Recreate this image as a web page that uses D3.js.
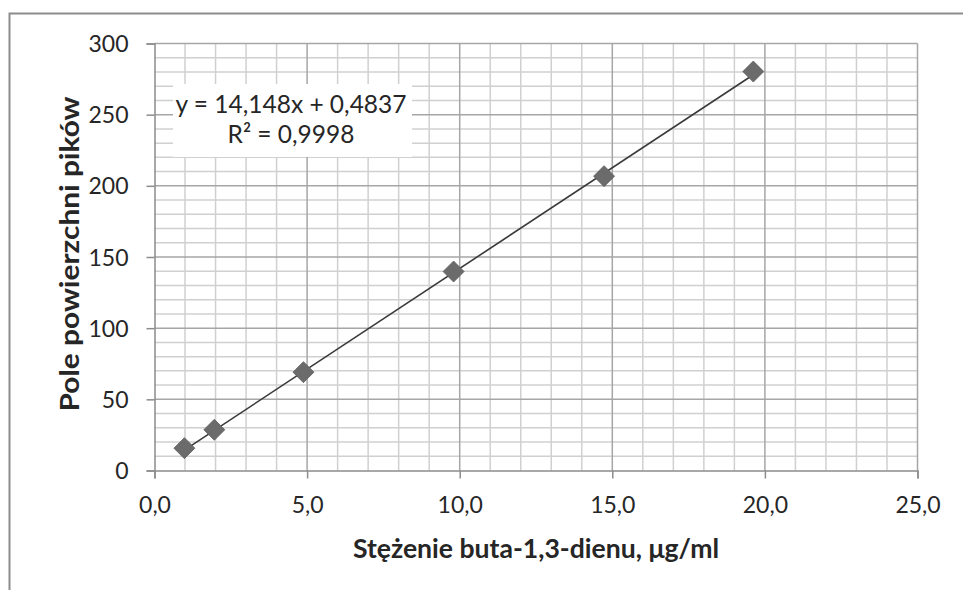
<!DOCTYPE html>
<html><head><meta charset="utf-8">
<script src="https://cdn.jsdelivr.net/npm/d3@7"></script>
<style>
html,body{margin:0;padding:0;background:#fff;}
svg{display:block;}
text{font-family:Lato,"Open Sans",sans-serif;fill:#262626;}
</style></head><body>
<script>
const concentrations = [0.98, 1.96, 4.88, 9.8, 14.73, 19.62];
const peakAreas = [15.7, 28.6, 69.1, 139.8, 206.8, 280.3];
const xTicks = [0, 5, 10, 15, 20, 25];
const yTicks = [0, 50, 100, 150, 200, 250, 300];
const slope = 14.148, intercept = 0.4837;
const equationLines = ["y = 14,148x + 0,4837", "R\u00b2 = 0,9998"];
const xTitle = "St\u0119\u017cenie buta-1,3-dienu, \u03bcg/ml";
const yTitle = "Pole powierzchni pik\u00f3w";

const W = 963, H = 590;
const svg = d3.select("body").append("svg").attr("width", W).attr("height", H);

// outer chart border
svg.append("rect").attr("x", 9.5).attr("y", 13.5).attr("width", 1000).attr("height", 700)
  .attr("fill", "#fff").attr("stroke", "#8c8c8c").attr("stroke-width", 2);

const x = d3.scaleLinear().domain([0, 25]).range([154.5, 917.5]);
const y = d3.scaleLinear().domain([0, 300]).range([470.5, 43.5]);

const g = svg.append("g");
// minor grid
g.selectAll(".vmin").data(d3.range(1, 25).filter(v => v % 5)).join("line")
  .attr("x1", d => x(d)).attr("x2", d => x(d)).attr("y1", y(0)).attr("y2", y(300))
  .attr("stroke", "#d0d0d0").attr("stroke-width", 1.5);
g.selectAll(".hmin").data(d3.range(10, 300, 10).filter(v => v % 50)).join("line")
  .attr("y1", d => y(d)).attr("y2", d => y(d)).attr("x1", x(0)).attr("x2", x(25))
  .attr("stroke", "#d0d0d0").attr("stroke-width", 1.5);
// major grid
g.selectAll(".vmaj").data(xTicks.slice(1)).join("line")
  .attr("x1", d => x(d)).attr("x2", d => x(d)).attr("y1", y(0)).attr("y2", y(300))
  .attr("stroke", "#a6a6a6").attr("stroke-width", 1.5);
g.selectAll(".hmaj").data(yTicks.slice(1)).join("line")
  .attr("y1", d => y(d)).attr("y2", d => y(d)).attr("x1", x(0)).attr("x2", x(25))
  .attr("stroke", "#a6a6a6").attr("stroke-width", 1.5);

// axes
const xAxis = svg.append("g").attr("transform", `translate(0,${y(0)})`)
  .call(d3.axisBottom(x).tickValues(xTicks).tickSize(8).tickPadding(18)
    .tickFormat(d => d3.format(".1f")(d).replace(".", ",")));
const yAxis = svg.append("g").attr("transform", `translate(${x(0)},0)`)
  .call(d3.axisLeft(y).tickValues(yTicks).tickSize(8).tickPadding(18));
[xAxis, yAxis].forEach(a => {
  a.select(".domain").attr("stroke", "#8c8c8c").attr("stroke-width", 1.5);
  a.selectAll(".tick line").attr("stroke", "#8c8c8c").attr("stroke-width", 1.5);
  a.selectAll(".tick text").attr("font-size", 23).attr("font-family", "Lato,'Open Sans',sans-serif").attr("fill", "#262626");
});
yAxis.selectAll(".tick text").attr("dy", "0.35em");

// equation box
const eq = svg.append("g");
eq.append("rect").attr("x", 173).attr("y", 84).attr("width", 239).attr("height", 73).attr("fill", "#fff");
eq.selectAll("text").data(equationLines).join("text")
  .attr("x", 291).attr("y", (d, i) => 113 + i * 30)
  .attr("text-anchor", "middle").attr("font-size", 24.5).text(d => d);

// trendline
const xmin = d3.min(concentrations), xmax = d3.max(concentrations);
svg.append("line")
  .attr("x1", x(xmin)).attr("y1", y(slope * xmin + intercept))
  .attr("x2", x(xmax)).attr("y2", y(slope * xmax + intercept))
  .attr("stroke", "#3a3a3a").attr("stroke-width", 1.6);

// markers
const pts = concentrations.map((c, i) => [c, peakAreas[i]]);
svg.selectAll(".pt").data(pts).join("path")
  .attr("transform", d => `translate(${x(d[0])},${y(d[1])})`)
  .attr("d", "M0,-10.5L10.5,0L0,10.5L-10.5,0Z")
  .attr("fill", "#6b6b6b").attr("stroke", "#5e5e5e").attr("stroke-width", 0.8);

// axis titles
svg.append("text").attr("x", (x(0) + x(25)) / 2).attr("y", 558)
  .attr("text-anchor", "middle").attr("font-size", 27).attr("font-weight", "bold")
  .attr("textLength", 366).attr("lengthAdjust", "spacingAndGlyphs")
  .attr("fill", "#000").text(xTitle);
svg.append("text").attr("transform", `translate(79,${(y(0) + y(300)) / 2 - 3}) rotate(-90)`)
  .attr("text-anchor", "middle").attr("font-size", 27).attr("font-weight", "bold")
  .attr("textLength", 315).attr("lengthAdjust", "spacingAndGlyphs")
  .attr("fill", "#000").text(yTitle);
</script>
</body></html>
